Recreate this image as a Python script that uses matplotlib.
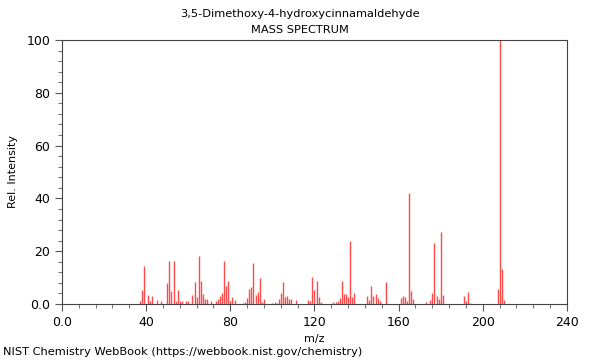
import matplotlib
matplotlib.use('Agg')
import matplotlib.pyplot as plt
from matplotlib.ticker import MultipleLocator, FuncFormatter

# m/z and relative intensity
mz = [37, 38, 39, 41, 42, 43, 45, 47, 50, 51, 52, 53, 54, 55, 56, 57, 59, 60,
      62, 63, 64, 65, 66, 67, 68, 69, 71, 73, 74, 75, 76, 77, 78, 79, 80, 81,
      82, 86, 87, 88, 89, 90, 91, 92, 93, 94, 95, 96, 100, 101, 102, 103, 104,
      105, 106, 107, 108, 109, 111, 117, 118, 119, 120, 121, 122, 123, 129,
      130, 131, 132, 133, 134, 135, 136, 137, 138, 139, 145, 146, 147, 148,
      149, 150, 151, 154, 161, 162, 163, 164, 165, 166, 167, 173, 175, 176,
      177, 178, 179, 180, 181, 191, 192, 193, 194, 207, 208, 209, 210]
intensity = [1.0, 5.3, 14.5, 3.4, 1.0, 3.0, 1.5, 1.0, 8.0, 16.4, 4.8, 16.4,
             1.3, 5.3, 1.0, 1.0, 1.0, 1.0, 3.5, 8.5, 2.8, 18.0, 8.8, 3.8, 2.0,
             2.0, 1.0, 1.0, 2.0, 3.0, 4.0, 16.4, 7.0, 8.8, 1.3, 2.5, 1.6, 0.5,
             0.6, 2.3, 5.6, 6.6, 15.5, 3.4, 4.5, 9.7, 0.9, 2.0, 0.5, 0.6, 0.5,
             2.0, 4.0, 8.3, 2.5, 3.0, 2.0, 2.0, 1.5, 1.5, 1.3, 10.1, 5.3, 8.6,
             2.5, 0.6, 0.7, 0.9, 1.3, 2.3, 8.8, 3.8, 3.8, 2.6, 24.0, 2.8, 4.0,
             3.1, 1.6, 7.0, 3.0, 3.6, 2.3, 1.0, 8.3, 2.4, 3.1, 2.5, 1.3, 42.0,
             4.9, 1.8, 0.8, 1.5, 4.0, 23.0, 3.0, 1.8, 27.3, 3.4, 3.0, 1.0, 4.5,
             0.5, 5.8, 100.0, 13.3, 1.6]

fig = plt.figure(figsize=(6, 3.6), dpi=100)
ax = fig.add_axes([0.1033, 0.1556, 0.8417, 0.7333])
ax.vlines(mz, 0, intensity, color='#ff4a4a', linewidth=1.0)

ax.set_xlim(0, 240)
ax.set_ylim(0, 100)
ax.xaxis.set_major_locator(MultipleLocator(40))
ax.xaxis.set_minor_locator(MultipleLocator(8))
ax.yaxis.set_major_locator(MultipleLocator(20))
ax.yaxis.set_minor_locator(MultipleLocator(4))
fmt = FuncFormatter(lambda v, p: '0.0' if v == 0 else '%d' % v)
ax.xaxis.set_major_formatter(fmt)
ax.yaxis.set_major_formatter(fmt)
ax.tick_params(which='major', length=5, width=0.8, color='#555555', labelsize=9)
ax.tick_params(which='minor', length=3, width=0.8, color='#777777')
for s in ax.spines.values():
    s.set_color('#444444')
    s.set_linewidth(0.8)

ax.set_xlabel('m/z', fontsize=8, labelpad=4)
ax.set_ylabel('Rel. Intensity', fontsize=8, labelpad=6)
fig.text(0.5, 0.961, '3,5-Dimethoxy-4-hydroxycinnamaldehyde', ha='center', va='center', fontsize=8.2)
fig.text(0.5, 0.917, 'MASS SPECTRUM', ha='center', va='center', fontsize=8.2)
fig.text(0.005, 0.022, 'NIST Chemistry WebBook (https://webbook.nist.gov/chemistry)',
         ha='left', va='center', fontsize=8.2)

fig.savefig('out.png', dpi=100)
